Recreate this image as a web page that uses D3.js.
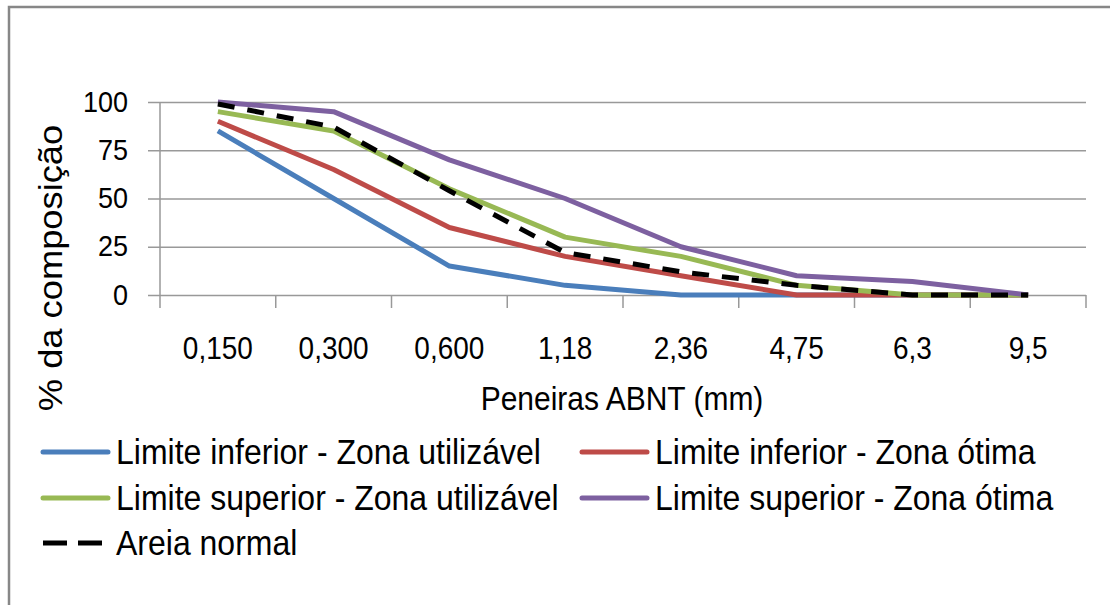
<!DOCTYPE html>
<html>
<head>
<meta charset="utf-8">
<script src="https://cdn.jsdelivr.net/npm/d3@7"></script>
<style>
  html, body { margin: 0; padding: 0; background: #fff; }
  svg text { font-family: "Liberation Sans", Arial, sans-serif; fill: #000; }
</style>
</head>
<body>
<svg id="chart" width="1110" height="605"></svg>
<script>
// Sieve openings (mm) and cumulative % passing for each grading limit
const categories = ["0,150", "0,300", "0,600", "1,18", "2,36", "4,75", "6,3", "9,5"];
const limInfUtil  = [85, 50, 15, 5, 0, 0, 0, 0];
const limInfOtima = [90, 65, 35, 20, 10, 0, 0, 0];
const limSupUtil  = [95, 85, 55, 30, 20, 5, 0, 0];
const limSupOtima = [100, 95, 70, 50, 25, 10, 7, 0];
const areiaNormal = [99, 87, 54, 22, 12, 5, 0, 0];
const yTicks = [0, 25, 50, 75, 100];

const seriesNames = [
  "Limite inferior - Zona utilizável",
  "Limite inferior - Zona ótima",
  "Limite superior - Zona utilizável",
  "Limite superior - Zona ótima",
  "Areia normal"
];
const seriesValues = [limInfUtil, limInfOtima, limSupUtil, limSupOtima, areiaNormal];
const seriesColors = ["#4a7ebb", "#be4b48", "#98b954", "#7d60a0", "#000000"];
const seriesDash = [null, null, null, null, "17,13"];

const svg = d3.select("#chart");
const stretch = 1.1; // vertical stretch of glyphs

// outer frame
svg.append("path")
  .attr("d", "M9,610 L9,7 L1115,7")
  .attr("fill", "none")
  .attr("stroke", "#878787")
  .attr("stroke-width", 2.5);

const plotLeft = 160, plotRight = 1086, plotTop = 102, plotBottom = 295;

const x = d3.scaleBand().domain(categories).range([plotLeft, plotRight]).padding(0);
const y = d3.scaleLinear().domain([0, 100]).range([plotBottom, plotTop]);

// horizontal gridlines + y ticks
const yAxis = d3.axisLeft(y).tickValues(yTicks).tickSize(-(plotRight - plotLeft)).tickPadding(0).tickFormat(() => "");
const gy = svg.append("g").attr("transform", `translate(${plotLeft},0)`).call(yAxis);
gy.select(".domain").remove();
gy.selectAll(".tick line").attr("stroke", "#999").attr("stroke-width", 1.5).attr("x1", -12);

// y tick labels
svg.append("g").selectAll("text").data(yTicks).join("text")
  .attr("text-anchor", "end")
  .attr("font-size", 27)
  .attr("transform", d => `translate(128,${y(d) + 9.5}) scale(1,${stretch})`)
  .text(d => d);

// y axis line
svg.append("line")
  .attr("x1", plotLeft).attr("x2", plotLeft).attr("y1", plotTop).attr("y2", plotBottom + 13)
  .attr("stroke", "#999").attr("stroke-width", 1.5);

// x axis category boundaries
const bounds = categories.map(c => x(c)).concat([plotRight]);
svg.append("g").selectAll("line").data(bounds.slice(1)).join("line")
  .attr("x1", d => d).attr("x2", d => d)
  .attr("y1", plotBottom).attr("y2", plotBottom + 13)
  .attr("stroke", "#999").attr("stroke-width", 1.5);

// x tick labels
svg.append("g").selectAll("text").data(categories).join("text")
  .attr("text-anchor", "middle")
  .attr("font-size", 28)
  .attr("transform", d => `translate(${x(d) + x.bandwidth() / 2},359) scale(1,${stretch})`)
  .text(d => d);

// axis titles
svg.append("text")
  .attr("text-anchor", "middle")
  .attr("font-size", 30)
  .attr("transform", `translate(622,410) scale(1,${stretch})`)
  .text("Peneiras ABNT (mm)");

svg.append("text")
  .attr("text-anchor", "middle")
  .attr("font-size", 33)
  .attr("transform", `translate(62,268) rotate(-90) scale(${stretch},1)`)
  .text("% da composição");

// series lines
const line = d3.line()
  .x((d, i) => x(categories[i]) + x.bandwidth() / 2)
  .y(d => y(d));

svg.append("g").selectAll("path").data(seriesValues).join("path")
  .attr("d", d => line(d))
  .attr("fill", "none")
  .attr("stroke", (d, i) => seriesColors[i])
  .attr("stroke-width", 5)
  .attr("stroke-linejoin", "round")
  .attr("stroke-dasharray", (d, i) => seriesDash[i]);

// legend
const legendPos = [
  [43, 452], [582, 452],
  [43, 498], [582, 498],
  [43, 543]
];
const lg = svg.append("g").selectAll("g").data(seriesNames).join("g")
  .attr("transform", (d, i) => `translate(${legendPos[i][0]},${legendPos[i][1]})`);
lg.append("line")
  .attr("x1", 0).attr("x2", 65).attr("y1", 0).attr("y2", 0)
  .attr("stroke", (d, i) => seriesColors[i])
  .attr("stroke-width", 5)
  .attr("stroke-linecap", (d, i) => seriesDash[i] ? "butt" : "round")
  .attr("stroke-dasharray", (d, i) => seriesDash[i] ? "24,11" : null);
lg.append("text")
  .attr("font-size", 32)
  .attr("transform", `translate(73,11.5) scale(1,${stretch})`)
  .text(d => d);
</script>
</body>
</html>
